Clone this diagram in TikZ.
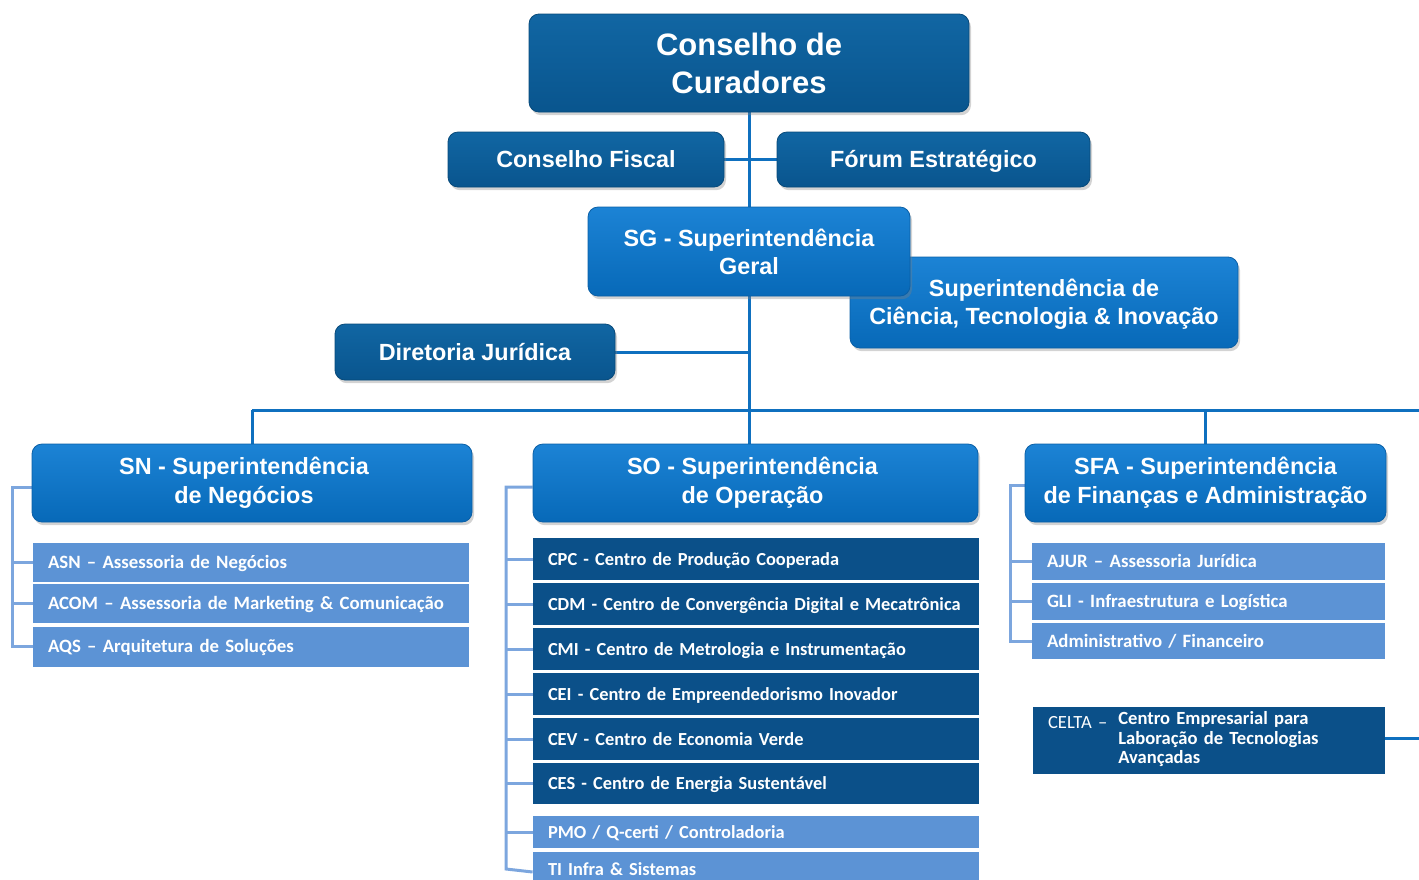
\documentclass[tikz,border=0pt]{standalone}
\usepackage{fontspec}
\setmainfont{Liberation Sans}
\newfontfamily\calfont{Carlito}
\usetikzlibrary{shadows,backgrounds}
\definecolor{darkedge}{HTML}{084A7A}
\definecolor{darktop}{HTML}{1166A3}
\definecolor{darkbot}{HTML}{09558E}
\definecolor{brightedge}{HTML}{0A5FA6}
\definecolor{brighttop}{HTML}{1C83D5}
\definecolor{brightbot}{HTML}{0769B8}
\definecolor{darkitem}{HTML}{0B5089}
\definecolor{lightitem}{HTML}{5C93D5}
\definecolor{trunk}{HTML}{0F70BF}
\definecolor{brk}{HTML}{7CA6DE}
\tikzset{
 hdr/.style={rounded corners=5pt, text=white, align=center, inner sep=0pt,
   font=\bfseries\fontsize{11.7}{14}\selectfont,
   drop shadow={opacity=0.35, shadow xshift=1pt, shadow yshift=-1.6pt}},
 oneline/.style={text height=8.4pt, text depth=0pt},
 darkhdr/.style={hdr, top color=darktop, bottom color=darkbot, draw=darkedge, line width=0.4pt},
 brighthdr/.style={hdr, top color=brighttop, bottom color=brightbot, draw=brightedge, line width=0.4pt},
 suphdr/.style={brighthdr, minimum height=39pt, font=\bfseries\fontsize{11.7}{14.5}\selectfont},
 itm/.style={inner xsep=7.5pt, inner ysep=0pt, text=white, align=left,
   font=\calfont\bfseries\fontsize{9.4}{11}\selectfont, text height=6pt, text depth=0pt},
 snitem/.style={itm, fill=lightitem, text width=203pt, minimum height=19.5pt},
 soitem/.style={itm, fill=darkitem, text width=208pt, minimum height=21pt, font=\calfont\bfseries\fontsize{9.2}{11}\selectfont},
 solight/.style={soitem, fill=lightitem, minimum height=16pt},
 sfaitem/.style={itm, fill=lightitem, text width=161.5pt, minimum height=18.5pt},
 trunkline/.style={draw=trunk, line width=1.5pt},
 brline/.style={draw=brk, line width=1.5pt},
}
\begin{document}
\begin{tikzpicture}[x=0.5pt,y=-0.5pt]
\useasboundingbox (0,0) rectangle (1419,879);
\clip (0,0) rectangle (1419,879);
% top
\node[darkhdr, minimum width=220pt, minimum height=49pt, font=\bfseries\fontsize{15.5}{19}\selectfont] (cc) at (749,63) {Conselho de\\Curadores};
\node[darkhdr, oneline, minimum width=138pt, minimum height=27.5pt] (cf) at (586,159.5) {Conselho Fiscal};
\node[darkhdr, oneline, minimum width=156.5pt, minimum height=27.5pt] (fe) at (933.5,159.5) {Fórum Estratégico};
\node[brighthdr, minimum width=194pt, minimum height=45.5pt, text height=22.4pt, text depth=0pt] (ct) at (1044,302.5) {Superintendência de\\Ciência, Tecnologia \& Inovação};
\node[brighthdr, minimum width=161pt, minimum height=44.5pt] (sg) at (749,251.5) {SG - Superintendência\\Geral};
\node[darkhdr, oneline, minimum width=140pt, minimum height=28pt] (dj) at (475,352) {Diretoria Jurídica};
% superintendencias
\node[suphdr, minimum width=220pt] (sn) at (252,483) {SN - Superintendência\hspace*{8pt}\\de Negócios\hspace*{8pt}};
\node[suphdr, minimum width=222.5pt] (so) at (755.5,483) {SO - Superintendência\hspace*{3pt}\\de Operação\hspace*{3pt}};
\node[suphdr, minimum width=180.5pt] (sfa) at (1205.5,483) {SFA - Superintendência\\de Finanças e Administração};
% SN items
\node[snitem] (asn) at (251,562.5) {ASN – Assessoria de Negócios};
\node[snitem] (acom) at (251,603.5) {\mbox{ACOM – Assessoria de Marketing \& Comunicação}};
\node[snitem, minimum height=20pt] (aqs) at (251,646.5) {AQS – Arquitetura de Soluções};
% SO items
\node[soitem] (cpc) at (756,559) {CPC - Centro de Produção Cooperada};
\node[soitem] (cdm) at (756,604) {\mbox{CDM - Centro de Convergência Digital e Mecatrônica}};
\node[soitem] (cmi) at (756,649) {CMI - Centro de Metrologia e Instrumentação};
\node[soitem] (cei) at (756,694) {CEI - Centro de Empreendedorismo Inovador};
\node[soitem] (cev) at (756,739) {CEV - Centro de Economia Verde};
\node[soitem, minimum height=20.5pt] (ces) at (756,783.5) {CES - Centro de Energia Sustentável};
\node[solight] (pmo) at (756,832) {PMO / Q-certi / Controladoria};
\node[solight, minimum height=17pt] (ti) at (756,869) {TI Infra \& Sistemas};
% SFA items
\node[sfaitem] (ajur) at (1208.5,561.5) {AJUR – Assessoria Jurídica};
\node[sfaitem] (gli) at (1208.5,601.5) {GLI - Infraestrutura e Logística};
\node[sfaitem, minimum height=18pt] (adm) at (1208.5,641) {Administrativo / Financeiro};
\node[inner xsep=7.5pt, inner ysep=0pt, text=white, align=left, fill=darkitem, text width=161pt, minimum height=33.5pt, font=\calfont\fontsize{9.3}{9.75}\selectfont] (celta) at (1209,740.5)
  {\begin{tabular}{@{}l@{\hspace{5.5pt}}l@{}}\raisebox{-2pt}{CELTA –}&\textbf{Centro Empresarial para}\\&\textbf{Laboração de Tecnologias}\\&\textbf{Avançadas}\end{tabular}};
% connectors
\begin{pgfonlayer}{background}
\coordinate (busL) at (252,410);
\coordinate (busR) at (1419,410);
\coordinate (edgeR) at (1419,738);
\draw[trunkline] (cc.south) -- (cc.south |- so.north);
\draw[trunkline] (cf.east) -- (fe.west);
\draw[trunkline] (dj.east) -- (dj.east -| cc.south);
\draw[trunkline] (busL) -- (busR);
\draw[trunkline] (busL) -- (sn.north);
\draw[trunkline] (sfa.north |- busL) -- (sfa.north);
\draw[trunkline] ([yshift=1pt]celta.east) -- ([yshift=1pt]celta.east -| edgeR);
% brackets
\coordinate (snx) at (12,0);
\coordinate (sox) at (506,0);
\coordinate (sfx) at (1010,0);
\draw[brline] ([yshift=-2pt]sn.west) -| (aqs.west -| snx) -- (aqs.west);
\draw[brline] (asn.west -| snx) -- (asn.west);
\draw[brline] (acom.west -| snx) -- (acom.west);
\draw[brline] ([yshift=-2pt]so.west) -| (ti.west -| sox) -- ([yshift=-1.5pt]ti.west);
\foreach \n in {cpc,cdm,cmi,cei,cev,ces,pmo}{\draw[brline] (\n.west -| sox) -- (\n.west);}
\draw[brline] ([yshift=-1pt]sfa.west) -| (adm.west -| sfx) -- (adm.west);
\draw[brline] (ajur.west -| sfx) -- (ajur.west);
\draw[brline] (gli.west -| sfx) -- (gli.west);
\end{pgfonlayer}
\end{tikzpicture}
\end{document}
